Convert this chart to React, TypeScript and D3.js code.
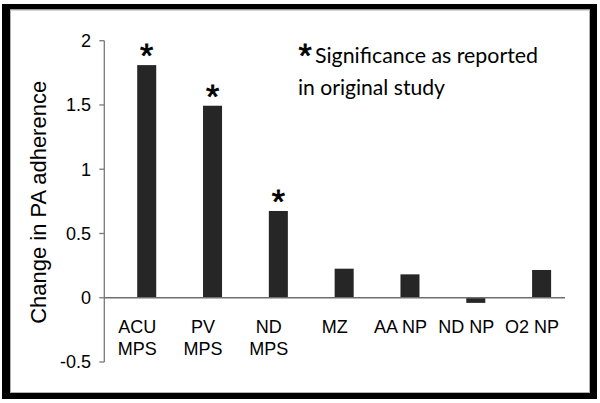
import React from "react";
import * as d3 from "d3";

const categories = ["ACU MPS", "PV MPS", "ND MPS", "MZ", "AA NP", "ND NP", "O2 NP"];
const labelLines = [["ACU", "MPS"], ["PV", "MPS"], ["ND", "MPS"], ["MZ"], ["AA NP"], ["ND NP"], ["O2 NP"]];
const values = [1.81, 1.494, 0.675, 0.226, 0.182, -0.04, 0.216];
const significant = [true, true, true, false, false, false, false];
const yTicks = [-0.5, 0, 0.5, 1, 1.5, 2];
const seriesSlots = ["blank", "change"];
const yLabel = "Change in PA adherence";
const noteLines = ["Significance as reported", "in original study"];

const ARIAL = "'Liberation Sans', Arial, sans-serif";
const CALIBRI = "Lato, 'Open Sans', sans-serif";

export default function App() {
  const W = 600;
  const H = 403;
  const x = d3.scaleBand<string>().domain(categories).range([104.3, 565]).padding(0);
  const sub = d3
    .scaleBand<string>()
    .domain(seriesSlots)
    .range([0, x.bandwidth()])
    .paddingInner(0)
    .paddingOuter(0.73);
  const y = d3.scaleLinear().domain([-0.5, 2]).range([362, 40.7]);
  const axisX = x.range()[0];

  return (
    <svg
      width={W}
      height={H}
      style={{ position: "absolute", left: 0, top: 0, background: "#fff" }}
    >
      {/* frame */}
      <rect x={2} y={4} width={595} height={395} fill="#000" />
      <rect x={10} y={9.5} width={580} height={383.5} fill="#fff" />
      <rect x={10.5} y={10} width={579} height={382.5} fill="none" stroke="#b0b0b0" strokeWidth={1} />

      {/* y axis */}
      <line x1={axisX} x2={axisX} y1={y(-0.5)} y2={y(2)} stroke="#7a7a7a" strokeWidth={1.3} />
      {yTicks.map((t) => (
        <g key={t}>
          <line x1={axisX - 5} x2={axisX} y1={y(t)} y2={y(t)} stroke="#7a7a7a" strokeWidth={1.3} />
          <text
            x={91}
            y={y(t)}
            dy="0.35em"
            textAnchor="end"
            fontFamily={ARIAL}
            fontSize={18}
            fill="#000"
          >
            {t}
          </text>
        </g>
      ))}
      <text
        transform={`translate(46,${(y(-0.5) + y(2)) / 2 + 1}) rotate(-90)`}
        textAnchor="middle"
        fontFamily={ARIAL}
        fontSize={22}
        fill="#000"
      >
        {yLabel}
      </text>

      {/* bars */}
      {categories.map((c, i) => {
        const v = values[i];
        const bx = (x(c) ?? 0) + (sub("change") ?? 0);
        const top = Math.min(y(v), y(0));
        const h = Math.abs(y(v) - y(0));
        return (
          <rect key={c} x={bx} y={top} width={sub.bandwidth()} height={h} fill="#262626" />
        );
      })}

      {/* zero line */}
      <line x1={axisX} x2={x.range()[1]} y1={y(0)} y2={y(0)} stroke="#6e6e6e" strokeWidth={1.3} />

      {/* significance stars */}
      {categories.map((c, i) =>
        significant[i] ? (
          <text
            key={c}
            x={(x(c) ?? 0) + (sub("change") ?? 0) + sub.bandwidth() / 2}
            y={y(values[i]) + 2}
            textAnchor="middle"
            fontFamily={ARIAL}
            fontSize={34}
            fill="#000"
            stroke="#000"
            strokeWidth={0.8}
          >
            *
          </text>
        ) : null
      )}

      {/* category labels */}
      {categories.map((c, i) => (
        <text
          key={c}
          x={(x(c) ?? 0) + x.bandwidth() / 2}
          y={333}
          textAnchor="middle"
          fontFamily={ARIAL}
          fontSize={18}
          fill="#000"
        >
          {labelLines[i].map((ln, j) => (
            <tspan key={j} x={(x(c) ?? 0) + x.bandwidth() / 2} dy={j === 0 ? 0 : 21.5}>
              {ln}
            </tspan>
          ))}
        </text>
      ))}

      {/* note */}
      <text
        x={305}
        y={67}
        textAnchor="middle"
        fontFamily={ARIAL}
        fontSize={34}
        fill="#000"
        stroke="#000"
        strokeWidth={0.8}
      >
        *
      </text>
      <text
        x={315}
        y={63}
        fontFamily={CALIBRI}
        fontSize={22}
        fill="#000"
        textLength={223}
        lengthAdjust="spacingAndGlyphs"
      >
        {noteLines[0]}
      </text>
      <text
        x={298}
        y={95}
        fontFamily={CALIBRI}
        fontSize={22}
        fill="#000"
        textLength={147}
        lengthAdjust="spacingAndGlyphs"
      >
        {noteLines[1]}
      </text>
    </svg>
  );
}
